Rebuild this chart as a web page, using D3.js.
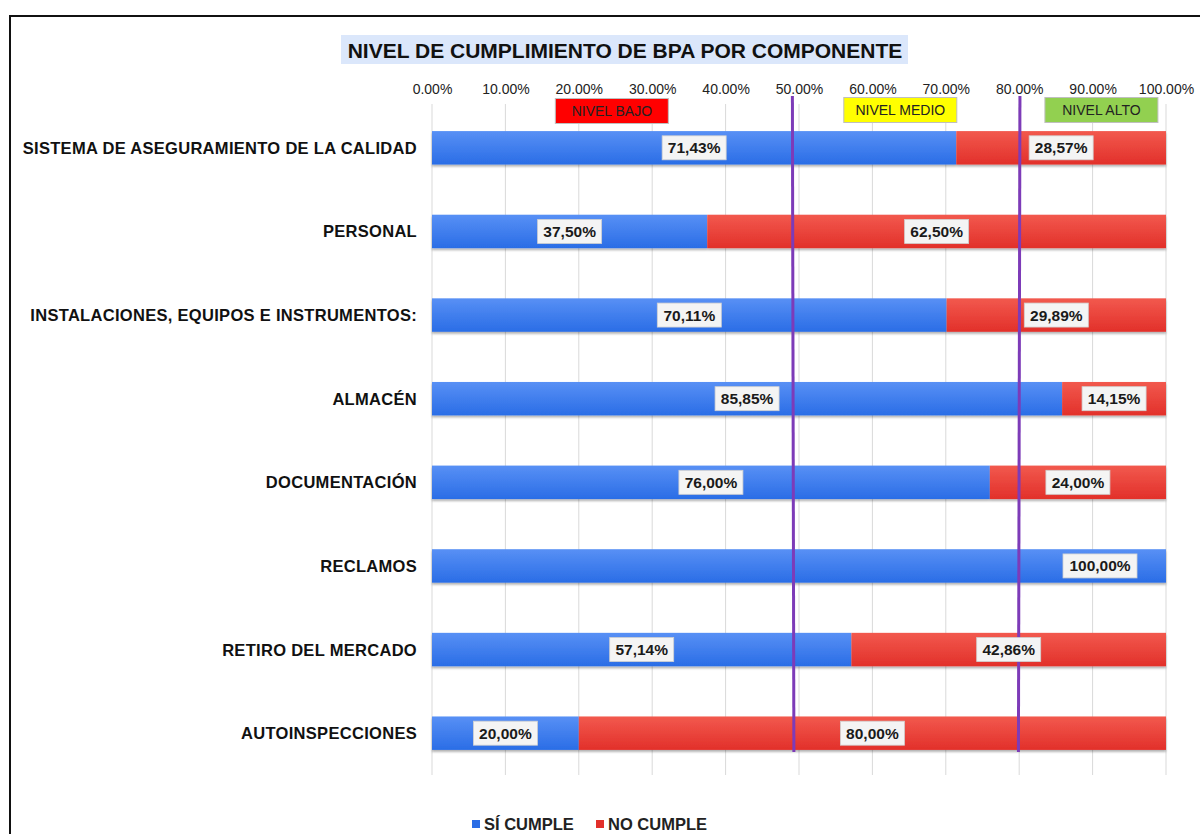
<!DOCTYPE html>
<html>
<head>
<meta charset="utf-8">
<script src="https://cdn.jsdelivr.net/npm/d3@7"></script>
<style>
  html, body { margin: 0; padding: 0; background: #fff; }
  svg { display: block; font-family: "Liberation Sans", Arial, sans-serif; }
</style>
</head>
<body>
<div id="chart"></div>
<script>
(function () {
    // Data
    var categories = [
        'SISTEMA DE ASEGURAMIENTO DE LA CALIDAD',
        'PERSONAL',
        'INSTALACIONES, EQUIPOS E INSTRUMENTOS:',
        'ALMACÉN',
        'DOCUMENTACIÓN',
        'RECLAMOS',
        'RETIRO DEL MERCADO',
        'AUTOINSPECCIONES'
    ];
    var siCumple = [71.43, 37.50, 70.11, 85.85, 76.00, 100.00, 57.14, 20.00];
    var noCumple = [28.57, 62.50, 29.89, 14.15, 24.00, 0, 42.86, 80.00];
    var tickValues = [0, 10, 20, 30, 40, 50, 60, 70, 80, 90, 100];
    var seriesNames = ['SÍ CUMPLE', 'NO CUMPLE'];
    var levelNames = ['NIVEL BAJO', 'NIVEL MEDIO', 'NIVEL ALTO'];
    var levelCenters = [24.5, 63.8, 91.2];
    var thresholds = [49.1, 80.1];

    var W = 1200, H = 834;
    var PLOT_L = 432, PLOT_R = 1166;
    var PLOT_T = 106, PLOT_B = 775;
    var BLUE_TOP = '#5890f5', BLUE_BOT = '#2a6de6';
    var RED_TOP = '#f2594e', RED_BOT = '#e2302a';
    var PURPLE = '#7d3bb8';

    var svg = d3.select('#chart').append('svg')
        .attr('width', W).attr('height', H);

    var defs = svg.append('defs');
    function grad(id, top, bot) {
        var g = defs.append('linearGradient').attr('id', id)
            .attr('x1', 0).attr('y1', 0).attr('x2', 0).attr('y2', 1);
        g.append('stop').attr('offset', '0%').attr('stop-color', top);
        g.append('stop').attr('offset', '100%').attr('stop-color', bot);
    }
    grad('gBlue', BLUE_TOP, BLUE_BOT);
    grad('gRed', RED_TOP, RED_BOT);
    var sh = defs.append('filter').attr('id', 'shadow')
        .attr('x', '-5%').attr('y', '-20%').attr('width', '110%').attr('height', '160%');
    sh.append('feDropShadow').attr('dx', 0).attr('dy', 2).attr('stdDeviation', 1.2)
        .attr('flood-color', '#000').attr('flood-opacity', 0.3);

    // Outer frame
    svg.append('path')
        .attr('d', 'M10,' + H + 'V16H' + W)
        .attr('fill', 'none').attr('stroke', '#111').attr('stroke-width', 2);

    var x = d3.scaleLinear().domain([0, 100]).range([PLOT_L, PLOT_R]);
    var y = d3.scaleBand().domain(categories).range([PLOT_T, PLOT_B]).paddingInner(0.6).paddingOuter(0.3);

    // Title
    var title = 'NIVEL DE CUMPLIMIENTO DE BPA POR COMPONENTE';
    svg.append('rect').attr('x', 341).attr('y', 35).attr('width', 567).attr('height', 29)
        .attr('fill', '#dbe7fb');
    svg.append('text').attr('x', 625).attr('y', 57.5)
        .attr('text-anchor', 'middle').attr('font-size', 21).attr('font-weight', 'bold')
        .attr('fill', '#111').text(title);

    // Gridlines
    svg.append('g').selectAll('line').data(tickValues).join('line')
        .attr('x1', function (d) { return x(d); }).attr('x2', function (d) { return x(d); })
        .attr('y1', 104).attr('y2', PLOT_B)
        .attr('stroke', '#d9d9d9').attr('stroke-width', 1);

    // Top axis labels
    var axis = d3.axisTop(x).tickValues(tickValues).tickSize(0).tickPadding(0)
        .tickFormat(function (d) { return d.toFixed(2) + '%'; });
    var ax = svg.append('g').attr('transform', 'translate(0,94)').call(axis);
    ax.select('.domain').remove();
    ax.selectAll('text').attr('font-size', 14).attr('fill', '#222')
        .attr('font-family', '"Liberation Sans", Arial, sans-serif');

    // Category labels
    svg.append('g').selectAll('text').data(categories).join('text')
        .attr('x', 417).attr('y', function (d) { return y(d) + y.bandwidth() / 2 + 6; })
        .attr('text-anchor', 'end').attr('font-size', 16.5).attr('font-weight', 'bold')
        .attr('letter-spacing', 0.3)
        .attr('fill', '#111').text(function (d) { return d; });

    // Stacked bars
    var rows = categories.map(function (c, i) {
        return { cat: c, si: siCumple[i], no: noCumple[i] };
    });
    var barG = svg.append('g').attr('filter', 'url(#shadow)');
    barG.selectAll('rect.si').data(rows).join('rect').attr('class', 'si')
        .attr('x', x(0)).attr('y', function (d) { return y(d.cat); })
        .attr('width', function (d) { return x(d.si) - x(0); })
        .attr('height', y.bandwidth()).attr('fill', 'url(#gBlue)');
    barG.selectAll('rect.no').data(rows.filter(function (d) { return d.no > 0; })).join('rect').attr('class', 'no')
        .attr('x', function (d) { return x(d.si); }).attr('y', function (d) { return y(d.cat); })
        .attr('width', function (d) { return x(d.si + d.no) - x(d.si); })
        .attr('height', y.bandwidth()).attr('fill', 'url(#gRed)');

    // Threshold lines
    svg.append('g').selectAll('line').data(thresholds).join('line')
        .attr('x1', function (d) { return x(d); }).attr('x2', function (d, i) { return x(d) + (i === 0 ? 1.5 : -1.5); })
        .attr('y1', 96).attr('y2', 752)
        .attr('stroke', PURPLE).attr('stroke-width', 3);

    // Level boxes
    var levelFill = ['#ff0000', '#ffff00', '#92d050'];
    var lv = svg.append('g').selectAll('g').data(levelNames).join('g')
        .attr('transform', function (d, i) { return 'translate(' + x(levelCenters[i]) + ',' + (i === 0 ? 111 : 110) + ')'; });
    lv.append('rect').attr('x', -56.5).attr('y', -12.5).attr('width', 113).attr('height', 25)
        .attr('fill', function (d, i) { return levelFill[i]; })
        .attr('stroke', '#bfbfbf').attr('stroke-width', 1);
    lv.append('text').attr('y', 5).attr('text-anchor', 'middle').attr('font-size', 14)
        .attr('fill', '#222').text(function (d) { return d; });

    // Value labels
    function fmt(v) { return v.toFixed(2).replace('.', ',') + '%'; }
    var labels = [];
    rows.forEach(function (d) {
        var cy = y(d.cat) + y.bandwidth() / 2;
        if (d.si >= 100) labels.push({ cx: x(d.si) - 66, cy: cy, t: fmt(d.si), w: 74 });
        else labels.push({ cx: (x(0) + x(d.si)) / 2, cy: cy, t: fmt(d.si), w: 64 });
        if (d.no > 0) labels.push({ cx: (x(d.si) + x(d.si + d.no)) / 2, cy: cy, t: fmt(d.no), w: 64 });
    });
    var lg = svg.append('g').selectAll('g').data(labels).join('g')
        .attr('transform', function (d) { return 'translate(' + d.cx + ',' + d.cy + ')'; });
    lg.append('rect').attr('x', function (d) { return -d.w / 2; }).attr('y', -12)
        .attr('width', function (d) { return d.w; }).attr('height', 24)
        .attr('fill', '#f4f4f4').attr('stroke', '#d0d0d0').attr('stroke-width', 0.8);
    lg.append('text').attr('y', 5.5).attr('text-anchor', 'middle').attr('font-size', 15.5)
        .attr('font-weight', 'bold').attr('fill', '#1a1a1a').text(function (d) { return d.t; });

    // Legend
    var legX = [472, 596];
    var leg = svg.append('g').selectAll('g').data(seriesNames).join('g')
        .attr('transform', function (d, i) { return 'translate(' + legX[i] + ',824)'; });
    leg.append('rect').attr('x', 0).attr('y', -4).attr('width', 8).attr('height', 8)
        .attr('fill', function (d, i) { return i === 0 ? BLUE_BOT : RED_BOT; });
    leg.append('text').attr('x', 12).attr('y', 6).attr('font-size', 16.5).attr('font-weight', 'bold')
        .attr('fill', '#222').text(function (d) { return d; });
}());
</script>
</body>
</html>
